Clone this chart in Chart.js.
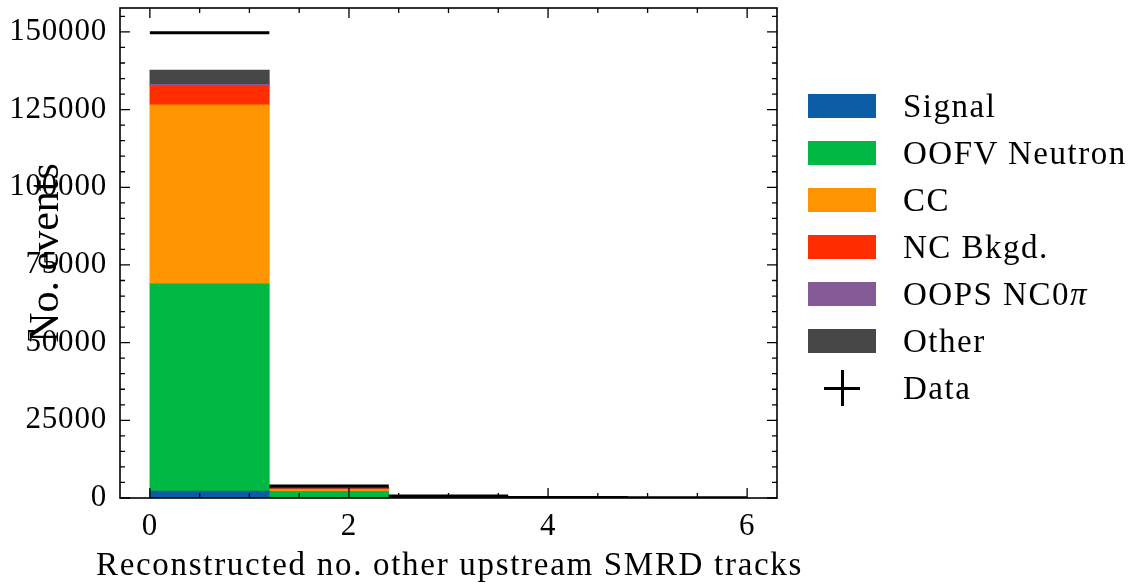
<!DOCTYPE html>
<html>
<head>
<meta charset="utf-8">
<script src="https://cdn.jsdelivr.net/npm/chart.js@4.4.1/dist/chart.umd.min.js"></script>
<style>
  body { margin: 0; background: #fff; }
  #wrap { position: relative; width: 1141px; height: 584px; }
  #legend {
    position: absolute; left: 808px; top: 94px;
    font-family: "Liberation Serif", "Times New Roman", serif; font-size: 33px; color: #000;
    letter-spacing: 1.5px;
  }
  .row { height: 47px; display: flex; align-items: flex-start; white-space: nowrap; }
  .swatch { width: 68px; height: 24px; margin-right: 27px; position: relative; flex: none; }
  .lbl { line-height: 24px; }
  .cross-h { position: absolute; left: 16px; top: 10.5px; width: 36px; height: 3px; background: #000; }
  .cross-v { position: absolute; left: 32.5px; top: -6px; width: 3px; height: 36px; background: #000; }
</style>
</head>
<body>
<div id="wrap">
  <canvas id="hist" width="1141" height="584"></canvas>
  <div id="legend"></div>
</div>
<script>
// Histogram bins (reconstructed no. of other upstream SMRD tracks)
const binCenters = [0.6, 1.8, 3.0, 4.2, 5.4];
const binWidth = 1.2;

// Stacked MC contributions per bin
const categories = ['Signal', 'OOFV Neutron', 'CC', 'NC Bkgd.', 'OOPS NC0π', 'Other'];
const colors = ['#0C5DA5', '#00B945', '#FF9500', '#FF2C00', '#845B97', '#474747'];
const signal = [2200, 50, 10, 4, 2];
const oofvNeutron = [66700, 2100, 300, 80, 30];
const ccBkg = [57600, 600, 110, 35, 12];
const ncBkg = [6200, 180, 35, 10, 4];
const oopsNc0pi = [400, 30, 5, 2, 1];
const other = [4600, 450, 60, 18, 7];
const series = [signal, oofvNeutron, ccBkg, ncBkg, oopsNc0pi, other];

// Observed counts
const dataCounts = [149700, 3850, 640, 170, 60];

const xTicks = [0, 2, 4, 6];
const yTicks = [0, 25000, 50000, 75000, 100000, 125000, 150000];
const xTitle = 'Reconstructed no. other upstream SMRD tracks';
const yTitle = 'No. events';

const FONT = '"Liberation Serif", "Times New Roman", serif';

const barSets = series.map((vals, i) => ({
  type: 'bar',
  label: categories[i],
  data: vals.map((v, j) => ({ x: binCenters[j], y: v })),
  backgroundColor: colors[i],
  borderWidth: 0,
  grouped: false,
  stack: 'mc',
  barPercentage: 1,
  categoryPercentage: 1,
  order: 1
}));

// data drawn as horizontal segments spanning each bin
const dataPoints = [];
dataCounts.forEach((v, j) => {
  dataPoints.push({ x: binCenters[j] - binWidth / 2, y: v });
  dataPoints.push({ x: binCenters[j] + binWidth / 2, y: v });
  dataPoints.push({ x: binCenters[j] + binWidth / 2, y: null });
});

const dataSet = {
  type: 'line',
  label: 'Data',
  data: dataPoints,
  borderColor: '#000',
  borderWidth: 3,
  pointRadius: 0,
  spanGaps: false,
  stack: 'data',
  order: 0
};

// wrap a scale draw method so its text gets some letter spacing
function spaced(scale, method, spacing) {
  if (scale['_sp_' + method]) return;
  const orig = scale[method];
  scale[method] = function (...args) {
    this.ctx.save();
    this.ctx.letterSpacing = spacing;
    orig.apply(this, args);
    this.ctx.restore();
  };
  scale['_sp_' + method] = true;
}

// inward ticks on all four sides, the frame and the x axis title
const frameTicks = {
  id: 'frameTicks',
  afterDatasetsDraw(chart) {
    const { ctx, chartArea: a, scales: { x, y } } = chart;
    ctx.save();
    ctx.strokeStyle = '#000';
    ctx.lineWidth = 1.3;
    ctx.beginPath();
    for (let k = 0; k <= 12; k++) {
      const px = x.getPixelForValue(k * 0.5);
      const len = k % 4 === 0 ? 10 : 5;
      ctx.moveTo(px, a.bottom); ctx.lineTo(px, a.bottom - len);
      ctx.moveTo(px, a.top); ctx.lineTo(px, a.top + len);
    }
    for (let k = 0; k <= 31; k++) {
      const v = k * 5000;
      if (v > y.max) break;
      const py = y.getPixelForValue(v);
      const len = k % 5 === 0 ? 10 : 5;
      ctx.moveTo(a.left, py); ctx.lineTo(a.left + len, py);
      ctx.moveTo(a.right, py); ctx.lineTo(a.right - len, py);
    }
    ctx.stroke();
    ctx.lineWidth = 1.6;
    ctx.strokeRect(a.left, a.top, a.right - a.left, a.bottom - a.top);

    // x title drawn here so it is not squeezed to the axis width
    ctx.fillStyle = '#000';
    ctx.font = '33px ' + FONT;
    ctx.letterSpacing = '1.7px';
    ctx.textAlign = 'center';
    ctx.textBaseline = 'middle';
    ctx.fillText(xTitle, (a.left + a.right) / 2 + 1, 566);
    ctx.restore();
  }
};

new Chart(document.getElementById('hist'), {
  type: 'bar',
  data: { datasets: [...barSets, dataSet] },
  options: {
    responsive: false,
    animation: false,
    layout: { padding: { top: 8, right: 364, left: 0, bottom: 0 } },
    plugins: { legend: { display: false }, tooltip: { enabled: false } },
    scales: {
      x: {
        type: 'linear',
        min: -0.3,
        max: 6.3,
        offset: false,
        grid: { display: false, drawTicks: false },
        border: { display: false },
        afterBuildTicks: s => { s.ticks = xTicks.map(v => ({ value: v })); },
        afterFit: s => {
          s.height = 86;
          s.paddingLeft = 0;
          s.paddingRight = 0;
          spaced(s, 'drawLabels', '0.8px');
        },
        ticks: {
          color: '#000', padding: 10, maxRotation: 0,
          font: { family: FONT, size: 31 },
          callback: v => String(v)
        }
      },
      y: {
        stacked: true,
        min: 0,
        max: 157700,
        grid: { display: false, drawTicks: false },
        border: { display: false },
        afterBuildTicks: s => { s.ticks = yTicks.map(v => ({ value: v })); },
        afterFit: s => {
          s.width = 120;
          s.paddingTop = 0;
          s.paddingBottom = 0;
          spaced(s, 'drawLabels', '0.8px');
        },
        ticks: {
          color: '#000', padding: 13,
          font: { family: FONT, size: 31 },
          callback: v => String(v)
        },
        title: {
          display: true,
          text: yTitle,
          color: '#000',
          padding: { top: 22, bottom: 0 },
          font: { family: FONT, size: 42 }
        }
      }
    }
  },
  plugins: [frameTicks]
});

// legend on the right
const legend = document.getElementById('legend');
categories.forEach((name, i) => {
  const row = document.createElement('div');
  row.className = 'row';
  const sw = document.createElement('div');
  sw.className = 'swatch';
  sw.style.background = colors[i];
  const lbl = document.createElement('span');
  lbl.className = 'lbl';
  if (name.endsWith('π')) {
    lbl.innerHTML = name.slice(0, -1) + '<i>π</i>';
  } else {
    lbl.textContent = name;
  }
  row.appendChild(sw);
  row.appendChild(lbl);
  legend.appendChild(row);
});
const dataRow = document.createElement('div');
dataRow.className = 'row';
dataRow.innerHTML = '<div class="swatch"><div class="cross-h"></div><div class="cross-v"></div></div><span class="lbl">Data</span>';
legend.appendChild(dataRow);
</script>
</body>
</html>
